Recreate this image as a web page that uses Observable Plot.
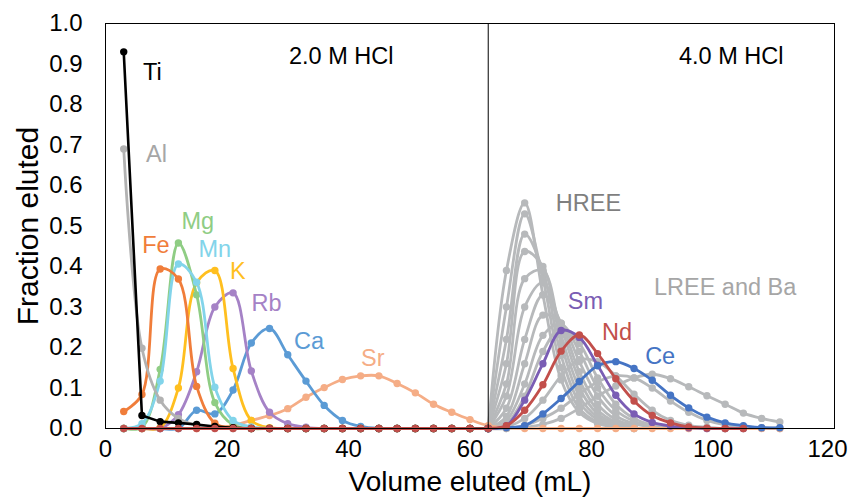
<!DOCTYPE html>
<html>
<head>
<meta charset="utf-8">
<script src="https://cdn.jsdelivr.net/npm/d3@7"></script>
<script src="https://cdn.jsdelivr.net/npm/@observablehq/plot@0.6"></script>
<style>
  html, body { margin: 0; padding: 0; background: #fff; }
  #chart { width: 853px; height: 502px; }
</style>
</head>
<body>
<div id="chart"></div>
<script>
// Collected fraction volumes (mL), 3 mL per fraction
const volumes = [3,6,9,12,15,18,21,24,27,30,33,36,39,42,45,48,51,54,57,60,63,
                 66,69,72,75,78,81,84,87,90,93,96,99,102,105,108,111];

// Matrix elements, 2.0 M HCl (fractions from 3 mL)
const ti = [0.93,0.032,0.017,0.014,0.01,0.005,0.002,0,0,0,0,0,0,0,0,0,0,0,0,0,0];
const al = [0.69,0.198,0.07,0.025,0.008,0.002,0,0,0,0,0,0,0,0,0,0,0,0,0,0,0];
const fe = [0.042,0.084,0.394,0.369,0.104,0.013,0.002,0,0,0,0,0,0,0,0,0,0,0,0,0,0];
const mg = [0,0.003,0.146,0.458,0.33,0.064,0.009,0,0,0,0,0,0,0,0,0,0,0,0,0,0];
const mn = [0,0.012,0.117,0.406,0.361,0.102,0.02,0.004,0,0,0,0,0,0,0,0,0,0,0,0,0];
const k  = [0,0,0.002,0.10,0.36,0.39,0.148,0.02,0.002,0,0,0,0,0,0,0,0,0,0,0,0];
const rb = [0,0,0,0.034,0.14,0.30,0.335,0.142,0.04,0.012,0.003,0,0,0,0,0,0,0,0,0,0];
const ca = [0,0,0,0,0.045,0.036,0.095,0.211,0.247,0.182,0.117,0.057,0.02,0.005,0,0,0,0,0,0,0];
const sr = [0,0,0,0,0,0.002,0.007,0.02,0.032,0.049,0.077,0.101,0.121,0.13,0.13,0.111,0.088,0.06,0.04,0.022,0.007,
            0.002,0,0,0,0,0,0,0,0,0,0,0,0,0,0,0];

// Rare earths and Ba, 4.0 M HCl (fractions from 63 mL)
const lu = [0,0.39,0.557,0.33,0.12,0.04,0.012,0.004,0];
const yb = [0,0.30,0.53,0.37,0.15,0.05,0.016,0.005,0];
const tm = [0,0.22,0.48,0.39,0.18,0.065,0.022,0.007,0.002];
const er = [0,0.16,0.437,0.40,0.21,0.08,0.028,0.01,0.003];
const y  = [0,0.11,0.37,0.39,0.23,0.10,0.036,0.012,0.004];
const ho = [0,0.08,0.30,0.36,0.25,0.12,0.046,0.016,0.005];
const dy = [0,0.05,0.22,0.33,0.26,0.14,0.06,0.022,0.008];
const tb = [0,0.03,0.16,0.28,0.26,0.165,0.08,0.032,0.012,0.004];
const gd = [0,0.02,0.11,0.23,0.258,0.19,0.10,0.045,0.018,0.006];
const eu = [0,0.012,0.08,0.19,0.25,0.21,0.125,0.06,0.025,0.009,0.003];
const pr = [0,0.004,0.025,0.07,0.13,0.17,0.165,0.13,0.085,0.045,0.02,0.008,0.003,0];
const la = [0,0,0.008,0.025,0.05,0.085,0.115,0.13,0.125,0.10,0.068,0.04,0.02,0.009,0.004,0.002,0];
const ba = [0,0,0.003,0.01,0.025,0.05,0.08,0.105,0.125,0.134,0.123,0.103,0.081,0.06,0.038,0.025,0.016];
const sm = [0,0.007,0.07,0.16,0.242,0.225,0.156,0.082,0.036,0.015,0.006,0.002,0,0,0];
const ce = [0,0.002,0.007,0.036,0.074,0.116,0.155,0.165,0.148,0.119,0.082,0.051,0.028,0.014,0.007,0.002,0.002];
// Nd runs through every fraction from 3 mL
const nd = [0,0,0,0,0,0,0,0,0,0,0,0,0,0,0,0,0,0,0,0,
            0,0.007,0.045,0.108,0.191,0.231,0.185,0.123,0.068,0.032,0.014,0.004,0.001,0,0];

// Axis ticks
const xTicks = [0,20,40,60,80,100,120];
const yTicks = [0,0.1,0.2,0.3,0.4,0.5,0.6,0.7,0.8,0.9,1.0];

// Acid change between the two elution steps
const acidSwitch = 63;

// Series table: name, first fraction volume, values, colour
const grey = "#b7b9bb";
const series = [
  ["Lu", 63, lu, grey], ["Yb", 63, yb, grey], ["Tm", 63, tm, grey], ["Er", 63, er, grey],
  ["Y", 63, y, grey], ["Ho", 63, ho, grey], ["Dy", 63, dy, grey], ["Tb", 63, tb, grey],
  ["Gd", 63, gd, grey], ["Eu", 63, eu, grey], ["Pr", 63, pr, grey], ["La", 63, la, grey],
  ["Ba", 63, ba, grey],
  ["Sr", 3, sr, "#f5ad86"], ["Ca", 3, ca, "#5b9bd5"], ["Rb", 3, rb, "#a582c6"],
  ["K", 3, k, "#ffbf1f"], ["Mg", 3, mg, "#8fcd84"], ["Mn", 3, mn, "#82d4ea"],
  ["Fe", 3, fe, "#f07d3a"], ["Al", 3, al, "#b2b2b2"], ["Ti", 3, ti, "#000000"],
  ["Sm", 63, sm, "#7a5db4"], ["Ce", 63, ce, "#4574c4"], ["Nd", 3, nd, "#c24f4b"]
];

// Element and acid labels
const labels = [
  {t: "Ti", v: 7.7, f: 0.88, c: "#000000"},
  {t: "Al", v: 8.4, f: 0.677, c: "#a6a6a6"},
  {t: "Mg", v: 15.2, f: 0.512, c: "#8fcd84"},
  {t: "Fe", v: 8.3, f: 0.452, c: "#f07d3a"},
  {t: "Mn", v: 18.0, f: 0.443, c: "#82d4ea"},
  {t: "K", v: 21.8, f: 0.387, c: "#ffbf1f"},
  {t: "Rb", v: 26.5, f: 0.308, c: "#a582c6"},
  {t: "Ca", v: 33.5, f: 0.216, c: "#5b9bd5"},
  {t: "Sr", v: 44.0, f: 0.174, c: "#f5ad86"},
  {t: "2.0 M HCl", v: 38.8, f: 0.918, c: "#000000"},
  {t: "4.0 M HCl", v: 103.0, f: 0.918, c: "#000000"},
  {t: "HREE", v: 79.5, f: 0.556, c: "#7f7f7f"},
  {t: "LREE and Ba", v: 102.0, f: 0.347, c: "#a6a6a6"},
  {t: "Sm", v: 79.0, f: 0.313, c: "#7a5db4"},
  {t: "Nd", v: 84.2, f: 0.236, c: "#c24f4b"},
  {t: "Ce", v: 91.3, f: 0.179, c: "#4574c4"}
];

function rowsOf([name, start, vals]) {
  const i0 = volumes.indexOf(start);
  return vals.map((f, i) => ({el: name, v: volumes[i0 + i], f}));
}

const seriesMarks = series.flatMap((s) => {
  const rows = rowsOf(s);
  const color = s[3];
  const isTi = s[0] === "Ti";
  return [
    Plot.line(rows, {x: "v", y: "f", stroke: color, strokeWidth: isTi ? 2.6 : 2.8,
                     curve: isTi ? "linear" : "catmull-rom"}),
    Plot.dot(rows, {x: "v", y: "f", fill: color, r: 3.7, stroke: "none"})
  ];
});

// The last x tick label is nudged inward so it stays inside the chart
const xMax = xTicks[xTicks.length - 1];

const chart = Plot.plot({
  width: 853,
  height: 502,
  marginLeft: 105,
  marginRight: 19,
  marginTop: 23,
  marginBottom: 74,
  style: {fontFamily: "'Liberation Sans', Arial, sans-serif", fontSize: "24px", color: "#000", background: "#fff"},
  x: {domain: [0, xMax]},
  y: {domain: [0, 1]},
  marks: [
    ...seriesMarks,
    Plot.ruleX([acidSwitch], {y1: 0, y2: 1, stroke: "#000", strokeWidth: 1}),
    Plot.frame({stroke: "#000", strokeWidth: 1}),
    Plot.axisX({ticks: xTicks.filter((t) => t < xMax), tickSize: 0, tickPadding: 11, fontSize: 24, label: null}),
    Plot.axisX({ticks: [xMax], tickSize: 0, tickPadding: 11, fontSize: 24, dx: -7, label: null}),
    Plot.axisY({ticks: yTicks, tickSize: 0, tickPadding: 23, fontSize: 24, tickFormat: d3.format(".1f"), label: null}),
    Plot.text(["Volume eluted (mL)"], {frameAnchor: "bottom", dy: 62, fontSize: 28, fill: "#000"}),
    Plot.text(["Fraction eluted"], {frameAnchor: "left", textAnchor: "middle", dx: -77, rotate: -90, fontSize: 30, fill: "#000"}),
    Plot.text(labels, {x: "v", y: "f", text: "t", fill: "c", fontSize: 23.5})
  ]
});

document.getElementById("chart").appendChild(chart);
</script>
</body>
</html>
